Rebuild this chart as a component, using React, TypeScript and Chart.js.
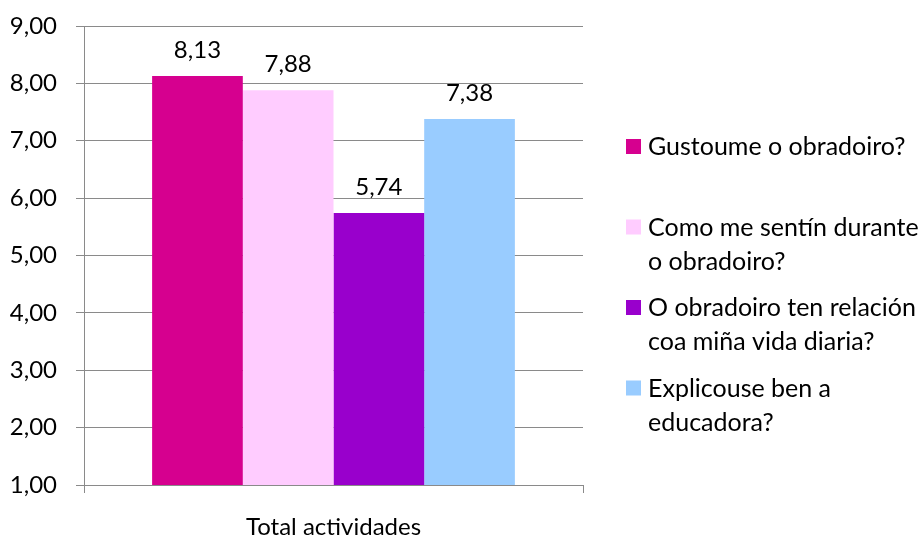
import React, { useEffect, useRef } from "react";
import { Chart, registerables } from "chart.js";

Chart.register(...registerables);

// ---- Data ----
const categories = ["Total actividades"];
const seriesNames = [
  "Gustoume o obradoiro?",
  "Como me sentín durante o obradoiro?",
  "O obradoiro ten relación coa miña vida diaria?",
  "Explicouse ben a educadora?",
];
const legendLines = [
  ["Gustoume o obradoiro?"],
  ["Como me sentín durante", "o obradoiro?"],
  ["O obradoiro ten relación", "coa miña vida diaria?"],
  ["Explicouse ben a", "educadora?"],
];
const gustoume = [8.13];
const comoMeSentin = [7.88];
const relacion = [5.74];
const explicouse = [7.38];
const seriesColors = ["#D6008F", "#FFCCFF", "#9900CC", "#99CCFF"];
const yMin = 1;
const yMax = 9;
const yStep = 1;

// ---- Styles ----
const FONT_FAMILY = "Lato, 'Open Sans', sans-serif";
const FONT_SIZE = 24;
const LEGEND_FONT_SIZE = 25;
const GRID = "#8A8A8A";
const TEXT = "#000000";

const fmt = (v: number) => Number(v).toFixed(2).replace(".", ",");

const dataLabelPlugin = {
  id: "dataLabels",
  afterDatasetsDraw(chart: any) {
    const ctx = chart.ctx;
    ctx.save();
    ctx.font = `${FONT_SIZE}px ${FONT_FAMILY}`;
    ctx.fillStyle = TEXT;
    ctx.textAlign = "center";
    ctx.textBaseline = "middle";
    chart.data.datasets.forEach((ds: any, i: number) => {
      const meta = chart.getDatasetMeta(i);
      meta.data.forEach((el: any, j: number) => {
        ctx.fillText(fmt(ds.data[j]), el.x, el.y - 26);
      });
    });
    ctx.restore();
  },
};

const sideLegendPlugin = {
  id: "sideLegend",
  afterDraw(chart: any) {
    const ctx = chart.ctx;
    ctx.save();
    ctx.font = `${LEGEND_FONT_SIZE}px ${FONT_FAMILY}`;
    ctx.textAlign = "left";
    ctx.textBaseline = "middle";
    const boxX = 626;
    const textX = 648;
    const firstY = 147;
    const itemGap = 80.5;
    const lineGap = 34;
    legendLines.forEach((lines, i) => {
      const y = firstY + i * itemGap;
      ctx.fillStyle = seriesColors[i];
      ctx.fillRect(boxX, y - 8, 15, 15);
      ctx.fillStyle = TEXT;
      lines.forEach((line, k) => {
        ctx.fillText(line, textX, y + k * lineGap);
      });
    });
    ctx.restore();
  },
};

export default function App() {
  const canvasRef = useRef<HTMLCanvasElement | null>(null);

  useEffect(() => {
    if (!canvasRef.current) return;
    const seriesValues = [gustoume, comoMeSentin, relacion, explicouse];
    const font = { family: FONT_FAMILY, size: FONT_SIZE };
    const chart = new Chart(canvasRef.current, {
      type: "bar",
      data: {
        labels: categories,
        datasets: seriesValues.map((vals, i) => ({
          label: seriesNames[i],
          data: vals,
          backgroundColor: seriesColors[i],
          borderWidth: 0,
          categoryPercentage: 0.727,
          barPercentage: 1,
        })),
      },
      options: {
        animation: false,
        responsive: true,
        maintainAspectRatio: false,
        layout: { padding: { left: 0, top: 26, right: 336, bottom: 0 } },
        plugins: {
          legend: { display: false },
          tooltip: { enabled: false },
        },
        scales: {
          x: {
            grid: {
              offset: true,
              drawOnChartArea: false,
              drawTicks: true,
              tickLength: 8,
              color: GRID,
              lineWidth: 1,
            },
            border: { color: GRID, width: 1 },
            ticks: { font, color: TEXT, padding: 20 },
            afterFit: (s: any) => {
              s.height = 53;
              s.paddingLeft = 0;
              s.paddingRight = 0;
            },
          },
          y: {
            min: yMin,
            max: yMax,
            ticks: {
              stepSize: yStep,
              font,
              color: TEXT,
              padding: 19,
              callback: (v: any) => fmt(v),
            },
            grid: { color: GRID, lineWidth: 1, tickLength: 8 },
            border: { color: GRID, width: 1 },
            afterFit: (s: any) => {
              s.width = 84;
              s.paddingTop = 0;
              s.paddingBottom = 0;
            },
          },
        },
      },
      plugins: [dataLabelPlugin, sideLegendPlugin],
    } as any);
    return () => chart.destroy();
  }, []);

  return (
    <div
      style={{
        position: "absolute",
        left: 0,
        top: 0,
        width: 919,
        height: 538,
        background: "#fff",
      }}
    >
      <canvas ref={canvasRef} />
    </div>
  );
}
